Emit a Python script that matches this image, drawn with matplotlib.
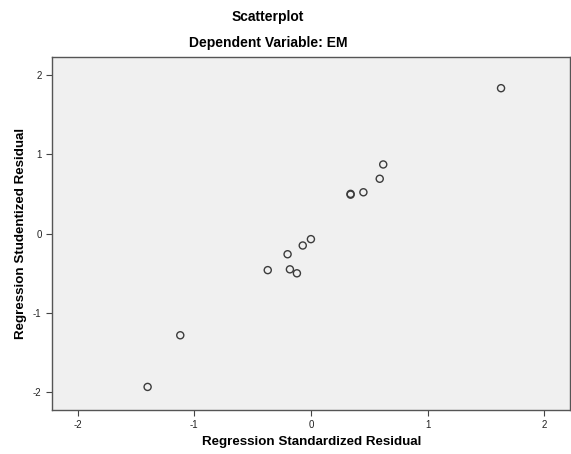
import matplotlib.pyplot as plt
import matplotlib as m

m.rcParams['font.family'] = ['Liberation Sans', 'DejaVu Sans']
m.rcParams['axes.unicode_minus'] = False

# residuals
std_resid = [1.63, 0.62, 0.59, 0.45, 0.34, 0.34, 0.00, -0.07, -0.20, -0.37, -0.18, -0.12, -1.12, -1.40]
stud_resid = [1.83, 0.87, 0.69, 0.52, 0.49, 0.50, -0.07, -0.15, -0.26, -0.46, -0.45, -0.50, -1.28, -1.93]
ticks = [-2, -1, 0, 1, 2]

fig = plt.figure(figsize=(5.71, 4.54), dpi=100)
ax = fig.add_axes([0.091, 0.097, 0.907, 0.777])
ax.set_facecolor('#f0f0f0')

ax.scatter(std_resid, stud_resid, s=26, facecolors='none', edgecolors='#3c3c3c', linewidths=1.0, zorder=3)

ax.set_xlim(-2.22, 2.22)
ax.set_ylim(-2.22, 2.22)
ax.set_xticks(ticks)
ax.set_yticks(ticks)
ax.tick_params(direction='out', length=4, width=0.8, colors='#444444', labelsize=7, labelcolor='#222222')
for s in ax.spines.values():
    s.set_color('#555555')
    s.set_linewidth(1.0)

# axis titles placed like the SPSS output
fig.text(0.545, 0.026, 'Regression Standardized Residual', ha='center', va='center', fontsize=9.6, fontweight='bold')
fig.text(0.036, 0.486, 'Regression Studentized Residual', ha='center', va='center', rotation=90, fontsize=9.6, fontweight='bold')

fig.text(0.469, 0.963, 'Scatterplot', ha='center', va='center', fontsize=10, fontweight='bold')
fig.text(0.469, 0.906, 'Dependent Variable: EM', ha='center', va='center', fontsize=10, fontweight='bold')

fig.savefig('out.png', dpi=100)
